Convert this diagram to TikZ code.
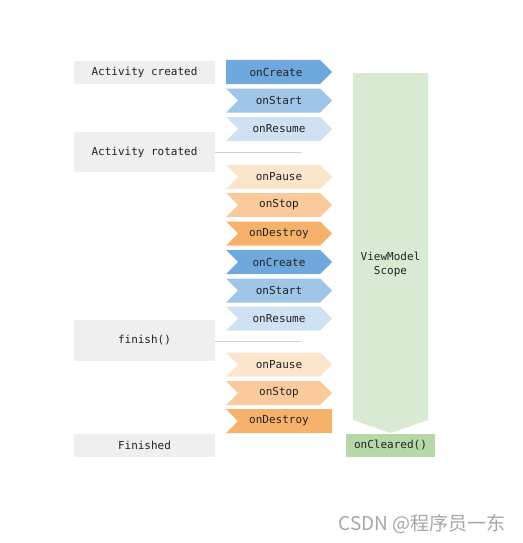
\documentclass[tikz,border=0pt]{standalone}
\usepackage{fontspec}
\setmonofont{DejaVu Sans Mono}
\usepackage{tikz}
\usetikzlibrary{positioning,shapes.symbols}

\definecolor{boxgray}{HTML}{EFEFEF}
\definecolor{blueA}{HTML}{6FA8DC}
\definecolor{blueB}{HTML}{9FC5E8}
\definecolor{blueC}{HTML}{CFE2F3}
\definecolor{orangeA}{HTML}{FCE5CD}
\definecolor{orangeB}{HTML}{F9CB9C}
\definecolor{orangeC}{HTML}{F6B26B}
\definecolor{scopegreen}{HTML}{D9EAD3}
\definecolor{clearedgreen}{HTML}{B6D7A8}
\definecolor{txt}{HTML}{222222}

\tikzset{
	state/.style={fill=boxgray, text=txt, minimum width=141pt, inner sep=0pt, font=\ttfamily\fontsize{11}{12}\selectfont},
	chev/.style={signal, signal from=west, signal to=east, signal pointer angle=90,
		minimum width=106pt, minimum height=24pt, inner sep=0pt, text=txt,
		font=\ttfamily\fontsize{11}{12}\selectfont},
	firstchev/.style={chev, signal from=nowhere},
	lastchev/.style={chev, signal to=nowhere}
}

\begin{document}
\begin{tikzpicture}[x=1pt,y=-1pt]
		\useasboundingbox (0,0) rectangle (522,543);

		% activity states
		\node [state, minimum height=23pt] (created) at (144.5,72.5){Activity created};
		\node [state, minimum height=40pt] (rotated) at (144.5,152){Activity rotated};
		\node [state, minimum height=41pt] (finish) at (144.5,340){finish()};
		\node [state, minimum height=23pt] (finished) at (144.5,445.5){Finished};

		% lifecycle callbacks
		\node [firstchev, fill=blueA] (create1) at (273,72){\kern6pt onCreate};
		\node [chev, fill=blueB] (start1) at (279,100.5){onStart};
		\node [chev, fill=blueC] (resume1) at (279,129){onResume};
		\node [chev, fill=orangeA] (pause1) at (279,177){onPause};
		\node [chev, fill=orangeB] (stop1) at (279,205){onStop};
		\node [chev, fill=orangeC] (destroy1) at (279,233.5){onDestroy};
		\node [chev, fill=blueA] (create2) at (279,262){onCreate};
		\node [chev, fill=blueB] (start2) at (279,290.5){onStart};
		\node [chev, fill=blueC] (resume2) at (279,318.5){onResume};
		\node [chev, fill=orangeA] (pause2) at (279,364.5){onPause};
		\node [chev, fill=orangeB] (stop2) at (279,393){onStop};
		\node [lastchev, fill=orangeC] (destroy2) at (285,421){\kern-12pt onDestroy};

		\coordinate (rotend) at (301,152);
		\coordinate (finend) at (301,341);
		\draw[gray!35] (rotated.east) -- (rotend);
		\draw[gray!35] (finish.east |- finend) -- (finend);

		% viewmodel scope
		\fill[scopegreen] (353,73) -- (428,73) -- (428,420) -- (390.5,433) -- (353,420) -- cycle;
		\node[align=center, text=txt, font=\ttfamily\fontsize{11}{14}\selectfont] (vm) at (390.5,264){ViewModel\\Scope};
		\node [fill=clearedgreen, text=txt, minimum width=89pt, minimum height=23pt, inner sep=0pt,
			font=\ttfamily\fontsize{11}{12}\selectfont] (cleared) at (390.5,445.5){onCleared()};

		\node[gray!70, font=\fontspec{Noto Sans CJK SC}\fontsize{19}{20}\selectfont, anchor=east] (mark) at (509,524){CSDN @程序员一东};
	\end{tikzpicture}
\end{document}
